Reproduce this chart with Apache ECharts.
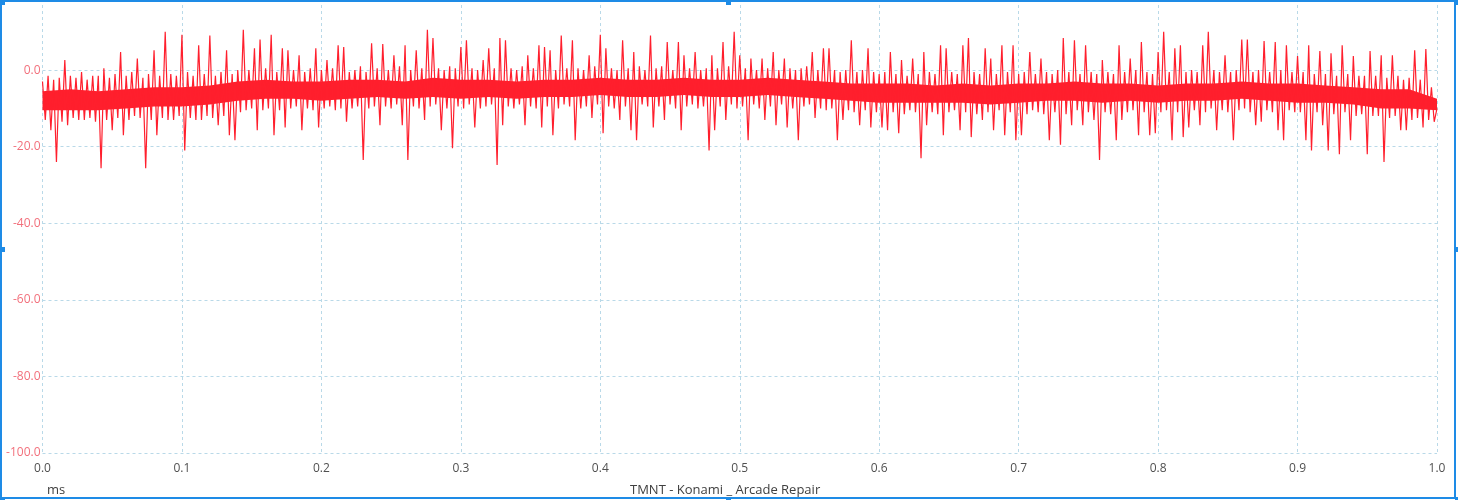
<!DOCTYPE html>
<html>
<head>
<meta charset="utf-8">
<script src="https://cdn.jsdelivr.net/npm/echarts@6/dist/echarts.min.js"></script>
<style>
html,body{margin:0;padding:0;background:#fff;}
#chart{width:1458px;height:500px;}
</style>
</head>
<body>
<div id="chart"></div>
<script>
// Time buckets of 0.004 ms; each bucket has a high and low sample
const bucketStep = 0.004;
const hiVals = [
 -3, -1.5, -2.5, -2, 2.6, -1.5, -2, -0.5, -2.5, -1.5,
 -1.5, 0.5, -2, -1, 4.7, -1.5, -0.5, 3, -2, -1,
 5.2, -1.5, 10, -1, -1.5, 9.2, -0.5, -1.5, 6.5, -1,
 9, -1.5, -0.5, 5.2, -1, 0, 10.5, 0, 5.7, 8,
 0.5, 9.2, -0.5, 5.7, 5.2, 0, 3.9, -0.5, 0.5, 5.7,
 0, 2.6, 0.5, 6.5, 6, -0.5, 0, 1, -0.5, 7,
 0.5, 6.8, 0, 3.9, 1, 6.5, 0, 5.2, 0.5, 10.5,
 8.4, 0.5, 0, 1, 0.5, 6, 7.8, 0.5, 0, 2.6,
 5.7, 0.5, 8.4, 7.8, 0.5, 0, 1, 3.9, 0.5, 6.5,
 6, 5.2, 0, 9, 0.5, 7.8, 0.5, 0, 3.9, 1,
 9.2, 5.7, 0.5, 0, 7.8, 0.5, 4.7, 1, 0, 9,
 0.5, 1, 7.3, 0, 7.3, 3.9, 0.5, 4.7, 0, 0.5,
 3.9, 0.5, 7.3, 1, 10, 3.9, 0.5, 3, 0, 3,
 0.5, 4.7, 0, 3, 0.5, 0, 0.5, 1, 4.7, 0,
 5.7, 5.7, 0, -0.5, 0, 7.8, -0.5, 0, 5.7, -0.5,
 -1, -0.5, 4.7, -1, 2.6, -1.5, 3, -1, 4.7, -0.5,
 -1, 6.5, 5.7, -0.5, -1, 6.5, 8.4, -0.5, -1, 5.7,
 3, -1, 6.5, -0.5, 6.5, -1, -0.5, 4.7, -1, 3,
 -0.5, -1, 0, 8.4, -0.5, 7.8, -1, 6.5, -0.5, -1,
 2.6, -0.5, -1, 6.5, -0.5, 3, 0, 7.3, -0.5, -1,
 4.7, 10, -0.5, 5.7, 6.5, -0.5, 0, -0.5, 6.5, 10,
 0, -0.5, 3.9, -0.5, 0, 8, 8, -0.5, 0, 7.6,
 -0.5, 7.3, 0, 6.5, -0.5, 3.7, -0.5, 6.5, -1, 5,
 -1, 4.4, -1.5, 6.5, -1, 3.7, -1.5, -1.5, 5, -1.5,
 3.9, -2, 3.9, -1.5, -2.5, -2, 5.2, -2.5, 5.5, -4.5
];
const loVals = [
 -13, -15.7, -24, -13.5, -14.4, -12.5, -13, -13, -12.5, -13.5,
 -25.6, -13, -15.7, -12.5, -17, -13, -12, -12.5, -25.6, -13,
 -17, -12.5, -13, -13, -12, -21, -12.5, -13, -13, -12,
 -12.5, -14.4, -12, -17, -18.3, -11, -10.5, -10, -15.7, -10.5,
 -10, -17, -10.5, -15, -10, -9.5, -15.7, -10, -10.5, -15,
 -10, -9.5, -10.5, -10, -13.5, -10, -9.5, -23.5, -10, -9.5,
 -14.4, -9.5, -10, -9, -14.4, -23.5, -9.5, -10, -13, -9.5,
 -9, -15.7, -10, -20.4, -9.5, -10, -9, -15, -10, -9.5,
 -9, -24.8, -14.4, -9.5, -10, -9, -14.4, -9.5, -10, -15,
 -9.5, -17, -10, -9, -9.5, -18.3, -10, -9.5, -12.5, -9,
 -16.5, -9.5, -10, -13, -9.5, -15.7, -18.3, -9, -9.5, -15,
 -9.5, -13, -9, -10, -15.7, -9.5, -9, -10, -9.5, -21,
 -15.7, -9.5, -13, -9, -10, -9.5, -18.3, -9, -10, -13,
 -9.5, -14.4, -9, -15, -10, -18.3, -9.5, -9, -12.5, -10,
 -10.5, -10, -18.3, -13, -10.5, -11, -14.4, -10.5, -15, -11,
 -15, -15.7, -11, -16.5, -11.5, -10.5, -11, -23, -14.4, -11,
 -11.5, -17, -11, -10.5, -15.7, -11, -17.5, -11.5, -13, -11,
 -15.7, -10.5, -17, -11, -18.3, -17, -11.5, -10.5, -11, -11.5,
 -18.3, -11, -19.5, -11.5, -14.4, -10.5, -14.4, -11, -13, -23.5,
 -11, -11.5, -18.3, -13, -11, -10.5, -17, -11, -17, -16.5,
 -11, -10.5, -18.3, -11, -17.5, -15, -10.5, -14.4, -11, -10,
 -15.7, -10.5, -11, -18.3, -10.5, -10, -11, -14.4, -13.5, -10.5,
 -11, -15.7, -18.3, -10.5, -11, -11, -18.3, -21, -11, -14.4,
 -21, -11.5, -22, -11, -18.3, -12, -11.5, -22, -12, -12,
 -24, -12.5, -12, -15.7, -15.7, -13, -12.5, -15, -13, -13.5
];
const endValue = -10;
// Dense core of the signal, read every 0.02 ms
const coreStep = 0.02;
const coreTop = [-5.5, -5, -5.5, -5, -4.5, -4.5, -4, -3, -2.5, -3,
 -3, -2.5, -2.5, -3, -2, -2.5, -2.5, -3, -2.5, -2.5,
 -2, -2.5, -2.5, -2, -2.5, -2.5, -2, -2.5, -3, -3.5,
 -3.5, -3.5, -4, -3.5, -4, -3.5, -3.5, -3, -3.5, -3.5,
 -4, -3.5, -3.5, -3, -3.5, -3.5, -4, -4.5, -5, -5, -7.5];
const coreBot = [-10.5, -10.5, -10.5, -10, -9.5, -9.5, -9, -8, -7.5, -7.5,
 -8, -7.5, -7, -7.5, -7, -7.5, -7, -7.5, -7, -7,
 -6.5, -7, -7, -6.5, -7, -7, -6.5, -7, -7.5, -8,
 -8.5, -8.5, -8.5, -8.5, -9, -8.5, -8, -8, -8.5, -8,
 -8.5, -8, -8, -7.5, -8, -8.5, -8.5, -9, -10, -10, -10.5];
const xTicks = ['0.0','0.1','0.2','0.3','0.4','0.5','0.6','0.7','0.8','0.9','1.0'];
const yTicks = ['-100.0','-80.0','-60.0','-40.0','-20.0','0.0'];
const xUnit = 'ms';
const chartTitle = 'TMNT - Konami _ Arcade Repair';

const signal = [];
for (let k = 0; k < hiVals.length; k++) {
  signal.push([k * bucketStep, hiVals[k]]);
  signal.push([k * bucketStep + bucketStep / 2, loVals[k]]);
}
signal.push([1.0, endValue]);

const red = '#ff1f2d';
const gridColor = '#b9d9e8';
const blue = '#1e8be6';
const W = 1458, H = 500;
const handles = [[0,0],[W/2,0],[W-3,0],[0,H/2],[W-3,H/2],[0,H-3],[W/2,H-3],[W-3,H-3]];

const chart = echarts.init(document.getElementById('chart'), null, {renderer: 'canvas'});
chart.setOption({
  animation: false,
  backgroundColor: '#ffffff',
  grid: {left: 42.5, right: 21, top: 5, bottom: 47, containLabel: false},
  xAxis: {
    type: 'value', min: 0, max: 1, interval: 0.1,
    axisLine: {show: false}, axisTick: {show: false},
    axisLabel: {
      color: '#505050', fontFamily: 'Open Sans', fontSize: 12, margin: 10,
      formatter: v => xTicks[Math.round(v * 10)]
    },
    splitLine: {show: true, lineStyle: {color: gridColor, type: [3, 3], width: 1}}
  },
  yAxis: {
    type: 'value', min: -100, max: 17, interval: 20,
    axisLine: {show: false}, axisTick: {show: false},
    axisLabel: {
      color: '#f2707c', fontFamily: 'Open Sans', fontSize: 12, margin: 2,
      showMaxLabel: false,
      formatter: v => { const i = Math.round((v + 100) / 20); return (Math.abs(v + 100 - i * 20) < 1e-6 && yTicks[i]) || ''; }
    },
    splitLine: {show: true, showMaxLine: false, lineStyle: {color: gridColor, type: [3, 3], width: 1}}
  },
  series: [{
    type: 'custom', z: 2, silent: true,
    data: [0],
    renderItem: (params, api) => {
      const pts = [];
      for (let i = 0; i < coreTop.length; i++) pts.push(api.coord([i * coreStep, coreTop[i]]));
      for (let i = coreBot.length - 1; i >= 0; i--) pts.push(api.coord([i * coreStep, coreBot[i]]));
      return {type: 'polygon', shape: {points: pts}, style: {fill: red}};
    }
  }, {
    type: 'line', data: signal, showSymbol: false, sampling: false,
    lineStyle: {color: red, width: 1.2}, z: 3
  }],
  graphic: [
    {type: 'text', left: 47, top: 484, style: {text: xUnit, fill: '#404040', font: '13px "Open Sans"'}},
    {type: 'text', left: 630, top: 484, style: {text: chartTitle, fill: '#404040', font: '13px "Open Sans"'}},
    {type: 'rect', shape: {x: 1, y: 1, width: W - 4, height: H - 3}, style: {fill: 'none', stroke: blue, lineWidth: 2}, z: 100}
  ].concat(handles.map(h => ({
    type: 'rect', shape: {x: h[0] - (h[0] === W/2 ? 3 : 0), y: h[1] - (h[1] === H/2 ? 3 : 0), width: 5, height: 5},
    style: {fill: blue}, z: 101
  })))
});
</script>
</body>
</html>
